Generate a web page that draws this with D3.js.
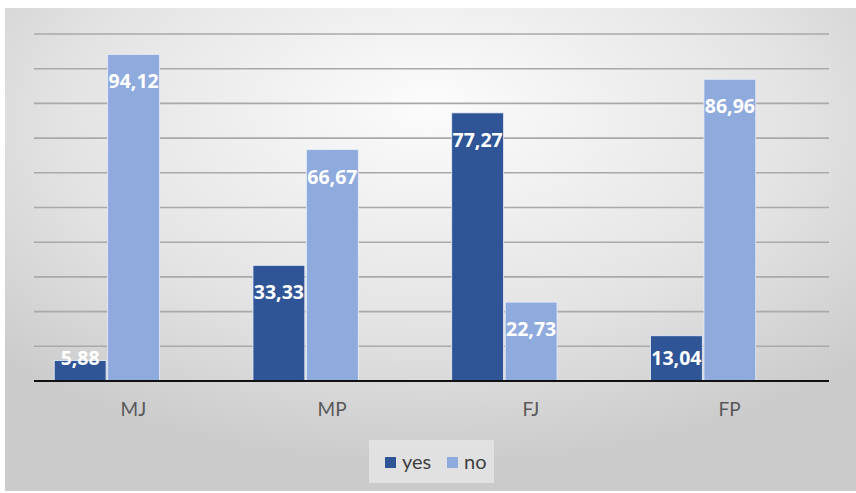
<!DOCTYPE html>
<html>
<head>
<meta charset="utf-8">
<script src="https://cdn.jsdelivr.net/npm/d3@7"></script>
<style>
  html, body { margin: 0; padding: 0; background: #fff; }
  svg { display: block; }
</style>
</head>
<body>
<svg id="chart"></svg>
<script>
var categories = ["MJ", "MP", "FJ", "FP"];
var seriesNames = ["yes", "no"];
var yesValues = [5.88, 33.33, 77.27, 13.04];
var noValues = [94.12, 66.67, 22.73, 86.96];
var yTicks = [0, 10, 20, 30, 40, 50, 60, 70, 80, 90, 100];

function drawChart() {

    var width = 856,
        height = 493;

    var colors = { yes: "#2f5597", no: "#8faadc" };

    var svg = d3.select("#chart")
        .attr("width", width)
        .attr("height", height);

    var defs = svg.append("defs");
    var grad = defs.append("radialGradient")
        .attr("id", "bg")
        .attr("cx", "50%").attr("cy", "25%")
        .attr("r", "70%")
        .attr("fx", "50%").attr("fy", "20%");
    grad.append("stop").attr("offset", "0%").attr("stop-color", "#fcfcfc");
    grad.append("stop").attr("offset", "60%").attr("stop-color", "#e4e4e4");
    grad.append("stop").attr("offset", "100%").attr("stop-color", "#cbcbcb");

    svg.append("rect")
        .attr("x", 5).attr("y", 8)
        .attr("width", width - 5).attr("height", height - 10)
        .attr("fill", "url(#bg)");

    var plotLeft = 34, plotRight = 829, plotTop = 34, base = 381;

    var y = d3.scaleLinear().domain([0, 100]).range([base, plotTop]);

    var x = d3.scaleBand()
        .domain(categories)
        .range([plotLeft, plotRight]);

    // bar groups sit a little left of the category centres in the picture
    var xBar = d3.scaleBand()
        .domain(categories)
        .range([plotLeft - 26.5, plotRight - 26.5])
        .paddingInner(0.47)
        .paddingOuter(0.235);

    var xSeries = d3.scaleBand()
        .domain(seriesNames)
        .range([0, xBar.bandwidth()])
        .paddingInner(0.03);

    // gridlines
    svg.append("g")
        .selectAll("line")
        .data(yTicks.slice(1))
        .enter()
        .append("line")
        .attr("x1", plotLeft).attr("x2", plotRight)
        .attr("y1", function(d) { return y(d); })
        .attr("y2", function(d) { return y(d); })
        .attr("stroke", "#a9a9a9")
        .attr("stroke-width", 1.6);

    var rows = categories.map(function(c, i) {
        return { cat: c, values: [
            { key: "yes", value: yesValues[i] },
            { key: "no", value: noValues[i] }
        ] };
    });

    var groups = svg.append("g")
        .selectAll("g")
        .data(rows)
        .enter()
        .append("g")
        .attr("transform", function(d) { return "translate(" + xBar(d.cat) + ",0)"; });

    groups.selectAll("rect")
        .data(function(d) { return d.values; })
        .enter()
        .append("rect")
        .attr("x", function(d) { return xSeries(d.key); })
        .attr("y", function(d) { return y(d.value); })
        .attr("width", xSeries.bandwidth())
        .attr("height", function(d) { return base - y(d.value); })
        .attr("fill", function(d) { return colors[d.key]; })
        .attr("stroke", "#e8eef8")
        .attr("stroke-width", 0.8);

    groups.selectAll("text")
        .data(function(d) { return d.values; })
        .enter()
        .append("text")
        .attr("x", function(d) { return xSeries(d.key) + xSeries.bandwidth() / 2; })
        .attr("y", function(d) { return Math.min(y(d.value) + 34, base - 16); })
        .attr("text-anchor", "middle")
        .attr("fill", "#ffffff")
        .style("font-family", "'Open Sans', sans-serif")
        .style("font-weight", "bold")
        .style("font-size", "19.5px")
        .text(function(d) { return d3.format(".2f")(d.value).replace(".", ","); });

    // baseline
    svg.append("line")
        .attr("x1", plotLeft).attr("x2", plotRight)
        .attr("y1", base).attr("y2", base)
        .attr("stroke", "#111")
        .attr("stroke-width", 2.2);

    // category axis
    var xAxis = svg.append("g")
        .attr("transform", "translate(0," + base + ")")
        .call(d3.axisBottom(x).tickSize(0).tickPadding(22));
    xAxis.select(".domain").remove();
    xAxis.selectAll("text")
        .attr("fill", "#595959")
        .style("font-family", "Lato, sans-serif")
        .style("font-size", "19px");

    // legend
    var legend = svg.append("g");
    legend.append("rect")
        .attr("x", 369).attr("y", 440)
        .attr("width", 125).attr("height", 43)
        .attr("fill", "#e6e6e6")
        .attr("opacity", 0.8);

    var legendX = d3.scalePoint().domain(seriesNames).range([385, 447]);

    var items = legend.selectAll("g.item")
        .data(seriesNames)
        .enter()
        .append("g")
        .attr("class", "item")
        .attr("transform", function(d) { return "translate(" + legendX(d) + ",457)"; });

    items.append("rect")
        .attr("width", 11).attr("height", 11)
        .attr("fill", function(d) { return colors[d]; });

    items.append("text")
        .attr("x", 17).attr("y", 12)
        .attr("fill", "#404040")
        .style("font-family", "Lato, sans-serif")
        .style("font-size", "20px")
        .text(function(d) { return d; });
}

drawChart();
</script>
</body>
</html>
